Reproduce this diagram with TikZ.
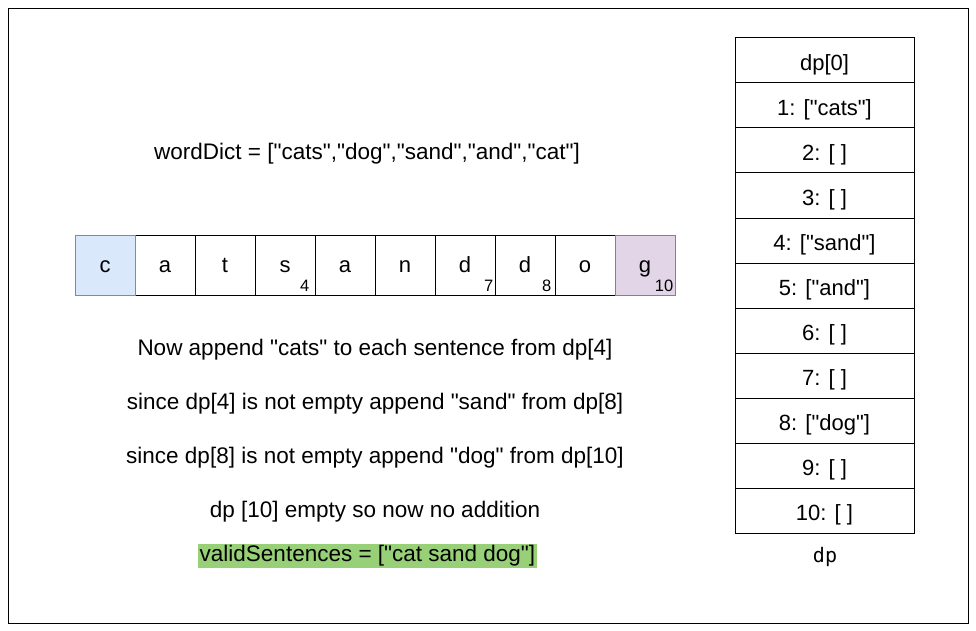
\documentclass[tikz,border=0pt]{standalone}
\usepackage{fontspec}
\newfontfamily\arial{Liberation Sans}
\newfontfamily\monofont{DejaVu Sans Mono}
\definecolor{blueF}{HTML}{DAE8FC}
\definecolor{blueD}{HTML}{6C8EBF}
\definecolor{purF}{HTML}{E1D5E7}
\definecolor{purD}{HTML}{9673A6}
\definecolor{grn}{HTML}{97D077}
\begin{document}
\begin{tikzpicture}[x=1pt,y=-1pt,
  cell/.style={draw=black,line width=1pt,minimum width=60pt,minimum height=60pt,inner sep=0pt,font=\arial\fontsize{22}{26}\selectfont,text height=15pt,text depth=0pt},
  dprow/.style={draw=black,line width=1pt,minimum width=179pt,minimum height=45pt,inner sep=0pt,font=\arial\fontsize{22}{26}\selectfont,text height=19.5pt,text depth=0pt},
  txt/.style={font=\arial\fontsize{22.5}{26}\selectfont,inner sep=1pt},
  sub/.style={font=\arial\fontsize{16.5}{18}\selectfont,inner sep=0pt,anchor=south east}]
\useasboundingbox (0,0) rectangle (976,631);
\node[draw=black,line width=1pt,minimum width=960pt,minimum height=615pt,anchor=north west,inner sep=0pt] (frame) at (8,8) {};
\node[txt] (wd) at (367,154) {wordDict = ["cats","dog","sand","and","cat"]};
\foreach \ch [count=\i from 0] in {c,a,t,s,a,n,d,d,o,g} {
  \node[cell] (c\i) at (105+60*\i,265) {\ch};
}
\node[cell,fill=blueF,draw=blueD] at (c0) {c};
\node[cell,fill=purF,draw=purD] at (c9) {g};
\node[sub] (s4) at ([xshift=-6pt,yshift=4pt]c3.south east) {4};
\node[sub] (s7) at ([xshift=-2pt,yshift=4pt]c6.south east) {7};
\node[sub] (s8) at ([xshift=-4pt,yshift=4pt]c7.south east) {8};
\node[sub] (s10) at ([xshift=-2pt,yshift=4pt]c9.south east) {10};
\foreach \t [count=\i from 0] in {dp[0],1: ["cats"],2: [ ],3: [ ],4: ["sand"],5: ["and"],6: [ ],7: [ ],8: ["dog"],9: [ ],10: [ ]} {
  \node[dprow] (d\i) at (824.5,60.5+45*\i) {\t};
}
\node[font=\monofont\fontsize{20}{24}\selectfont] (dpl) at (825,557) {dp};
\node[txt] (l1) at (375,350) {Now append "cats" to each sentence from dp[4]};
\node[txt] (l2) at (375,404) {since dp[4] is not empty append "sand" from dp[8]};
\node[txt] (l3) at (375,458) {since dp[8] is not empty append "dog" from dp[10]};
\node[txt] (l4) at (375,512) {dp [10] empty so now no addition};
\node[txt,fill=grn,inner sep=2pt] (l5) at (367.5,556) {validSentences = ["cat sand dog"]};
\end{tikzpicture}
\end{document}
